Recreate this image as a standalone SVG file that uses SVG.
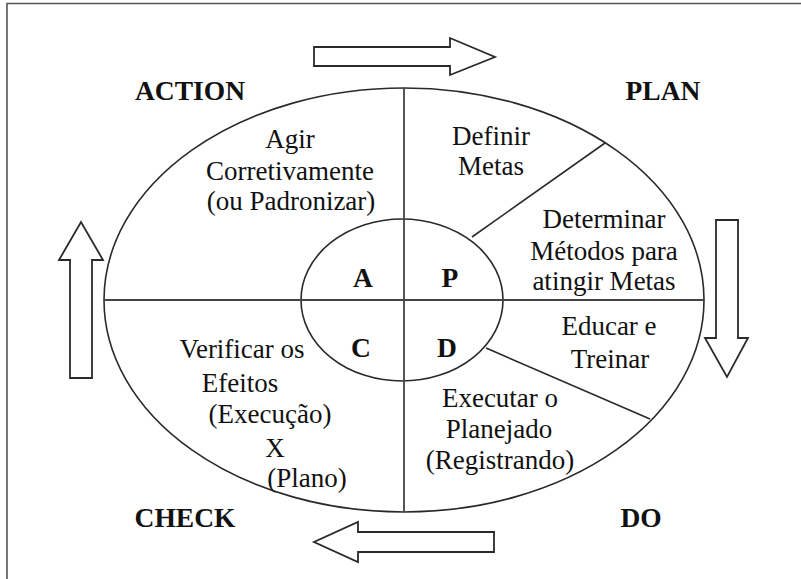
<svg xmlns="http://www.w3.org/2000/svg" width="801" height="579" viewBox="0 0 801 579">
  <style>
    .frame { fill: none; stroke: #555; stroke-width: 1.6; }
    .ring { fill: none; stroke: #2a2a2a; stroke-width: 1.6; }
    .axis { fill: none; stroke: #444; stroke-width: 1.8; }
    .arrow { fill: #fff; stroke: #2a2a2a; stroke-width: 1.8; stroke-linejoin: miter; }
    text { font-family: "Liberation Serif", "Times New Roman", serif; fill: #111; text-anchor: middle; }
    .body { font-size: 27px; }
    .label { font-size: 27.5px; font-weight: 700; }
  </style>

  <rect width="801" height="579" fill="#fff"/>
  <!-- page frame (top and left edges only) -->
  <path class="frame" d="M7,579 V3.5 H801"/>

  <!-- cycle wheel -->
  <g id="wheel">
    <ellipse class="ring" cx="404" cy="300" rx="300" ry="212"/>
    <ellipse class="ring" cx="402" cy="300" rx="101" ry="81"/>
  </g>

  <g id="connectors">
    <line class="axis" x1="104" y1="300" x2="704" y2="300"/>
    <line class="axis" x1="404" y1="88" x2="404" y2="512"/>
    <line class="ring" x1="472" y1="237" x2="605" y2="143"/>
    <line class="ring" x1="486" y1="348" x2="650" y2="419"/>
  </g>

  <!-- direction arrows around the wheel -->
  <g id="arrows">
    <polygon class="arrow" points="314,47 450,47 450,38 495,57 450,75 450,66 314,66"/>
    <polygon class="arrow" points="716,220 738,220 738,338 748,338 727,377 705,338 716,338"/>
    <polygon class="arrow" points="494,532 358,532 358,522 314,542 358,562 358,552 494,552"/>
    <polygon class="arrow" points="70,378 92,378 92,260 103,260 81,222 59,260 70,260"/>
  </g>

  <g id="label-action"><text class="label" x="190" y="100">ACTION</text></g>
  <g id="label-plan"><text class="label" x="663" y="100">PLAN</text></g>
  <g id="label-check"><text class="label" x="185" y="527">CHECK</text></g>
  <g id="label-do"><text class="label" x="641" y="527">DO</text></g>

  <g id="core-a"><text class="label" x="363" y="287">A</text></g>
  <g id="core-p"><text class="label" x="450" y="287">P</text></g>
  <g id="core-c"><text class="label" x="361" y="357">C</text></g>
  <g id="core-d"><text class="label" x="447" y="357">D</text></g>

  <g id="step-agir">
    <text class="body" x="290" y="148">Agir</text>
    <text class="body" x="290" y="180">Corretivamente</text>
    <text class="body" x="291" y="210">(ou Padronizar)</text>
  </g>

  <g id="step-metas">
    <text class="body" x="491" y="145">Definir</text>
    <text class="body" x="491" y="175">Metas</text>
  </g>

  <g id="step-metodos">
    <text class="body" x="604" y="228">Determinar</text>
    <text class="body" x="604" y="260">Métodos para</text>
    <text class="body" x="604" y="290">atingir Metas</text>
  </g>

  <g id="step-educar">
    <text class="body" x="609" y="335">Educar e</text>
    <text class="body" x="610" y="368">Treinar</text>
  </g>

  <g id="step-executar">
    <text class="body" x="500" y="407">Executar o</text>
    <text class="body" x="499" y="438">Planejado</text>
    <text class="body" x="500" y="469">(Registrando)</text>
  </g>

  <g id="step-verificar">
    <text class="body" x="242" y="358">Verificar os</text>
    <text class="body" x="240" y="392">Efeitos</text>
    <text class="body" x="270" y="423">(Execução)</text>
    <text class="body" x="275" y="457">X</text>
    <text class="body" x="307" y="487">(Plano)</text>
  </g>
</svg>
